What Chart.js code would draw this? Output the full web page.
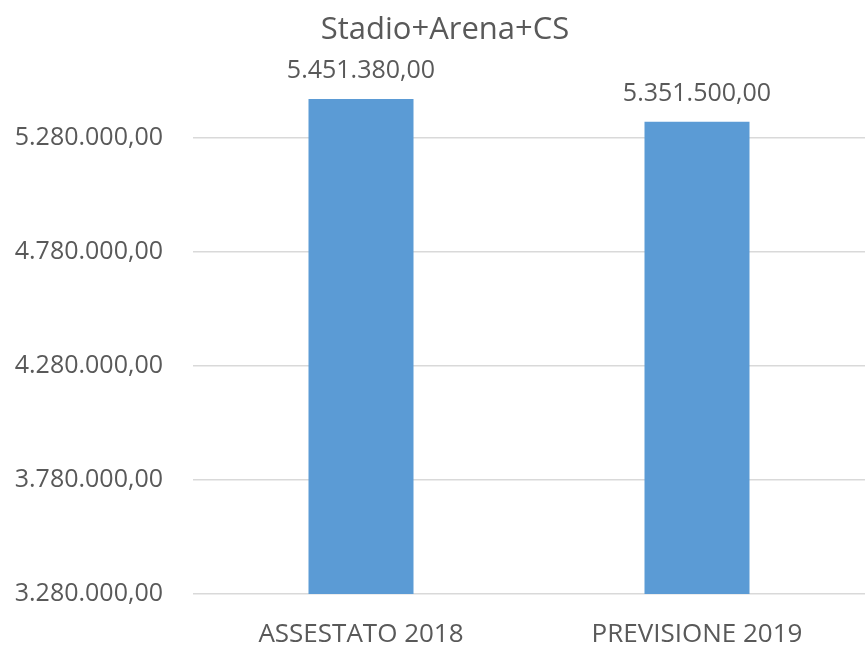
<!DOCTYPE html>
<html>
<head>
<meta charset="utf-8">
<script src="https://cdn.jsdelivr.net/npm/chart.js@4"></script>
<style>
  html, body { margin: 0; padding: 0; background: #fff; }
  #wrap { width: 865px; height: 648px; }
</style>
</head>
<body>
<div id="wrap"><canvas id="myChart" width="865" height="648"></canvas></div>
<script>
const chartTitle = 'Stadio+Arena+CS';
const categories = ['ASSESTATO 2018', 'PREVISIONE 2019'];
const values = [5451380, 5351500];
const tickValues = [3280000, 3780000, 4280000, 4780000, 5280000];

const textColor = '#595959';
const fontFamily = '"Open Sans", "Noto Sans", sans-serif';

function formatIt(v) {
    const parts = v.toFixed(2).split('.');
    const intPart = parts[0].replace(/\B(?=(\d{3})+(?!\d))/g, '.');
    return intPart + ',' + parts[1];
}

// title and value labels drawn by hand so they sit where the original has them
const labelsPlugin = {
    id: 'labelsPlugin',
    afterDatasetsDraw(chart) {
        const ctx = chart.ctx;
        ctx.save();
        ctx.fillStyle = textColor;
        ctx.textAlign = 'center';
        ctx.textBaseline = 'middle';
        ctx.font = '31px ' + fontFamily;
        ctx.fillText(chartTitle, 445, 30);
        ctx.font = '25px ' + fontFamily;
        chart.getDatasetMeta(0).data.forEach((bar, i) => {
            ctx.fillText(formatIt(values[i]), bar.x, bar.y - 28);
        });
        ctx.restore();
    }
};

function initChart(target) {
    const data = {
        labels: categories,
        datasets: [{
            label: chartTitle,
            backgroundColor: '#5b9bd5',
            data: values,
            barPercentage: 0.3125,
            categoryPercentage: 1
        }]
    };

    const config = {
        type: 'bar',
        data: data,
        plugins: [labelsPlugin],
        options: {
            responsive: false,
            animation: false,
            layout: { padding: { top: 88, right: 0, left: 0, bottom: 0 } },
            plugins: {
                legend: { display: false },
                title: { display: false },
                tooltip: { enabled: false }
            },
            scales: {
                x: {
                    grid: { display: false, drawTicks: false },
                    border: { display: false },
                    ticks: {
                        color: textColor,
                        font: { family: fontFamily, size: 26 },
                        padding: 25,
                        maxRotation: 0
                    },
                    afterFit: (scale) => { scale.height = 54; }
                },
                y: {
                    min: tickValues[0],
                    max: 5500000,
                    grid: { color: '#d9d9d9', lineWidth: 1.5, drawTicks: false },
                    border: { display: false },
                    ticks: {
                        color: textColor,
                        font: { family: fontFamily, size: 25 },
                        padding: 30,
                        callback: (v) => formatIt(v)
                    },
                    afterBuildTicks: (scale) => {
                        scale.ticks = tickValues.map((v) => ({ value: v }));
                    },
                    afterFit: (scale) => { scale.width = 193; }
                }
            }
        }
    };

    return new Chart(target, config);
}

document.addEventListener('DOMContentLoaded', () => {
    initChart(document.querySelector('#myChart'));
});
</script>
</body>
</html>
